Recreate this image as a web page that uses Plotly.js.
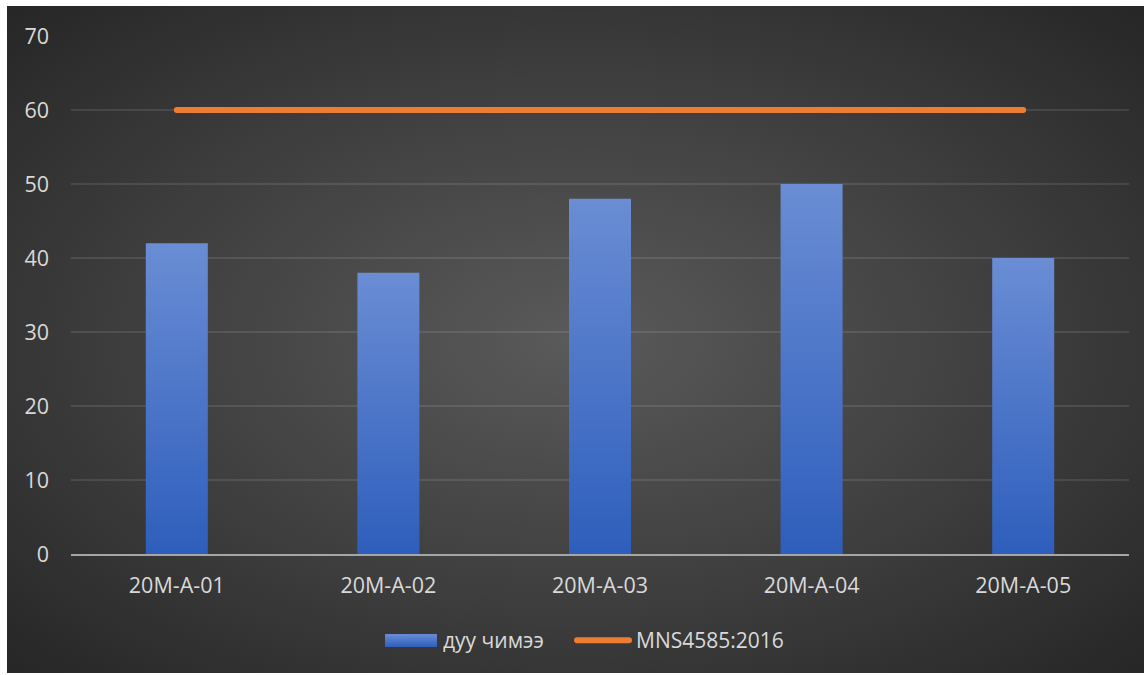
<!DOCTYPE html>
<html>
<head>
<meta charset="utf-8">
<script src="https://cdn.plot.ly/plotly-3.0.1.min.js"></script>
<style>
  html, body { margin: 0; padding: 0; background: #ffffff; width: 1145px; height: 675px; overflow: hidden; }
  #frame { position: absolute; left: 7px; top: 6px; width: 1137px; height: 667px;
    background: radial-gradient(ellipse farthest-corner at 50% 50%, #5a5a5a 0%, #3e3e3e 55%, #262626 100%); }
  #chart { width: 1137px; height: 667px; }
</style>
</head>
<body>
<div id="frame"><div id="chart"></div></div>
<script>
const categories = ["20M-A-01", "20M-A-02", "20M-A-03", "20M-A-04", "20M-A-05"];
const noiseValues = [42, 38, 48, 50, 40];
const standardValues = [60, 60, 60, 60, 60];
const seriesNames = ["дуу чимээ", "MNS4585:2016"];
const yTicks = [0, 10, 20, 30, 40, 50, 60, 70];

const font = "'Open Sans', 'Noto Sans', sans-serif";
const textColor = "#d9d9d9";

const traces = [
  {
    type: "bar", x: categories, y: noiseValues, name: seriesNames[0],
    width: 0.293, marker: { color: "#4472C4", line: { width: 0 } },
    showlegend: false, hoverinfo: "x+y"
  },
  {
    type: "scatter", mode: "lines", x: categories, y: standardValues, name: seriesNames[1],
    line: { color: "#ED7D31", width: 6 }, showlegend: false
  }
];

const layout = {
  width: 1137, height: 667,
  margin: { l: 64, r: 15, t: 30, b: 119 },
  paper_bgcolor: "rgba(0,0,0,0)", plot_bgcolor: "rgba(0,0,0,0)",
  font: { family: font, size: 22, color: textColor },
  xaxis: {
    type: "category", showgrid: false, zeroline: false,
    showline: true, linecolor: "#a6a6a6", linewidth: 2,
    ticks: "", ticklabelstandoff: 11,
    tickfont: { family: font, size: 21.5, color: textColor }
  },
  yaxis: {
    range: [0, 70], tickvals: yTicks, showline: false, zeroline: false,
    gridcolor: "rgba(255,255,255,0.10)", gridwidth: 1.5,
    ticks: "", ticklabelstandoff: 21,
    tickfont: { family: font, size: 21.5, color: textColor }
  },
  shapes: [
    { type: "rect", xref: "paper", yref: "paper", x0: 0.2968, x1: 0.3459, y0: -0.1795, y1: -0.1544,
      fillcolor: "#4472C4", line: { width: 0 } },
    { type: "line", xref: "paper", yref: "paper", x0: 0.4783, x1: 0.5274, y0: -0.1665, y1: -0.1665,
      line: { color: "#ED7D31", width: 6 } }
  ],
  annotations: [
    { xref: "paper", yref: "paper", x: 0.3497, y: -0.1665, xanchor: "left", yanchor: "middle",
      text: seriesNames[0], showarrow: false, font: { family: font, size: 21, color: textColor } },
    { xref: "paper", yref: "paper", x: 0.5321, y: -0.1665, xanchor: "left", yanchor: "middle",
      text: seriesNames[1], showarrow: false, font: { family: font, size: 21, color: textColor } }
  ]
};

Plotly.newPlot("chart", traces, layout, { displayModeBar: false, staticPlot: true }).then(function (gd) {
  const svg = gd.querySelector("svg.main-svg");
  const ns = "http://www.w3.org/2000/svg";
  let defs = svg.querySelector("defs");
  if (!defs) { defs = document.createElementNS(ns, "defs"); svg.insertBefore(defs, svg.firstChild); }
  const grad = document.createElementNS(ns, "linearGradient");
  grad.setAttribute("id", "barGrad");
  grad.setAttribute("x1", "0"); grad.setAttribute("y1", "0");
  grad.setAttribute("x2", "0"); grad.setAttribute("y2", "1");
  [["0%", "#6a8dd4"], ["100%", "#2e5ebc"]].forEach(function (s) {
    const st = document.createElementNS(ns, "stop");
    st.setAttribute("offset", s[0]); st.setAttribute("stop-color", s[1]);
    grad.appendChild(st);
  });
  defs.appendChild(grad);
  gd.querySelectorAll(".bars .point path").forEach(function (p) {
    p.style.fill = "url(#barGrad)";
  });
  gd.querySelectorAll(".scatterlayer .js-line").forEach(function (p) {
    p.style.strokeLinecap = "round";
  });
  const shapePaths = gd.querySelectorAll(".shapelayer path");
  if (shapePaths[0]) shapePaths[0].style.fill = "url(#barGrad)";
  if (shapePaths[1]) shapePaths[1].style.strokeLinecap = "round";
});
</script>
</body>
</html>
